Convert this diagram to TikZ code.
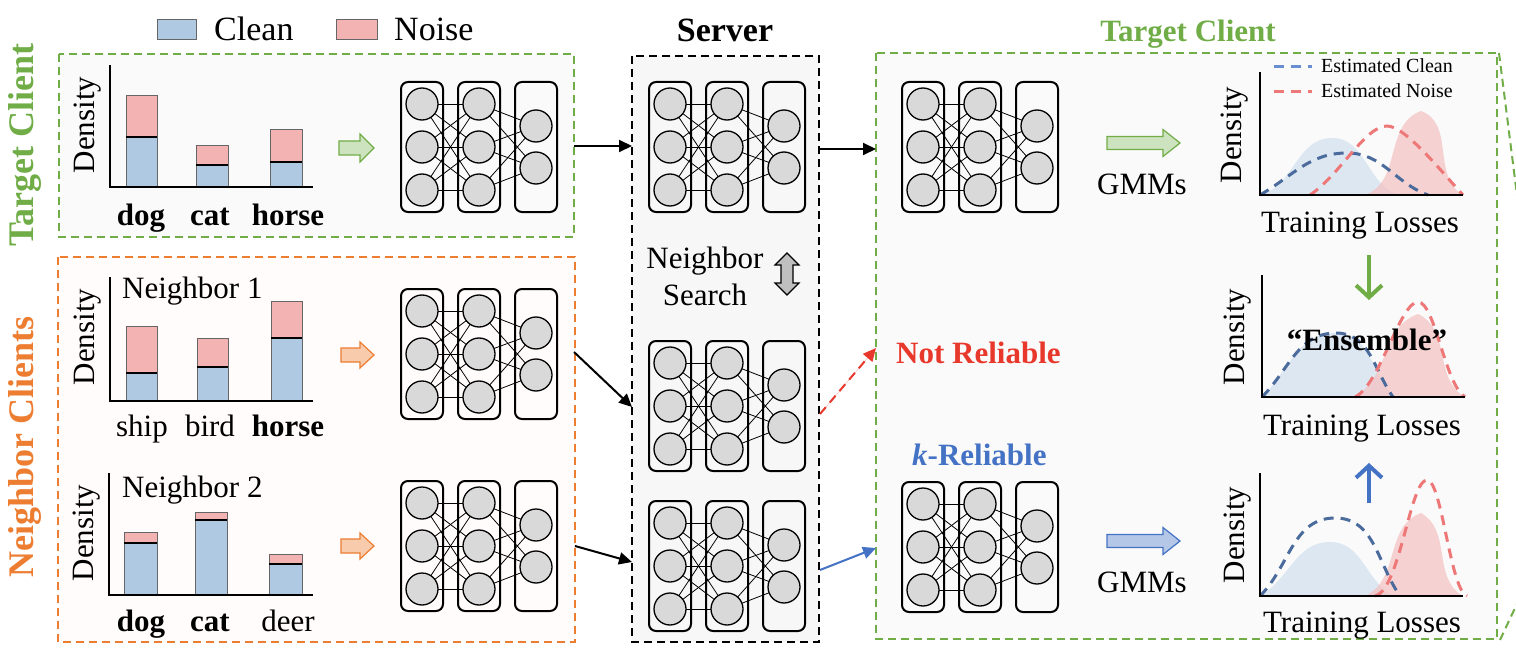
\documentclass[tikz,border=0pt]{standalone}
\usepackage{fontspec}
\setmainfont{Liberation Serif}
\usetikzlibrary{arrows.meta,positioning,calc}

\definecolor{cleanblue}{HTML}{B0C9E3}
\definecolor{noisepink}{HTML}{F3B3B3}
\definecolor{tgtgreen}{HTML}{70AD47}
\definecolor{nbrorange}{HTML}{ED7D31}
\definecolor{notred}{HTML}{E8382C}
\definecolor{relblue}{HTML}{4472C4}
\definecolor{estblue}{HTML}{4A6B9C}
\definecolor{estred}{HTML}{EE7777}
\definecolor{fillblue}{HTML}{D6E3F0}
\definecolor{fillred}{HTML}{F4C0C0}
\definecolor{neurongray}{HTML}{D9D9D9}

\newcommand{\pxfont}[1]{\fontsize{#1}{#1}\selectfont}

% small network: centre x, centre y
\newcommand{\nnet}[2]{%
  \begin{scope}[shift={(#1,#2)}]
    \foreach \lx in {-57,0,57}
      \draw[layerbox] (\lx-21,-65) rectangle (\lx+21,65);
    \foreach \ya in {-43,0,43} {
      \foreach \yb in {-43,0,43}
        \draw[wire] (-57,\ya) -- (0,\yb);
      \foreach \yb in {-21,21}
        \draw[wire] (0,\ya) -- (57,\yb);
    }
    \foreach \lx in {-57,0}
      \foreach \ya in {-43,0,43}
        \draw[neuron] (\lx,\ya) circle (16);
    \foreach \ya in {-21,21}
      \draw[neuron] (57,\ya) circle (16);
  \end{scope}}

% stacked bar: x1, x2, base, clean top, noise top
\newcommand{\stackbar}[5]{%
  \draw[barline,fill=cleanblue] (#1,#3) rectangle (#2,#4);
  \draw[barline,fill=noisepink] (#1,#4) rectangle (#2,#5);
  \draw[line width=1.5pt] (#1,#4) -- (#2,#4);}

% block arrow: style, x1, x2, y, shaft half, head half, head length
\newcommand{\blockarrow}[7]{%
  \draw[#1] (#2,#4-#5) -- (#3-#7,#4-#5) -- (#3-#7,#4-#6) -- (#3,#4)
    -- (#3-#7,#4+#6) -- (#3-#7,#4+#5) -- (#2,#4+#5) -- cycle;}

\tikzset{
  lbl/.style={font=\pxfont{31},inner sep=0pt},
  blbl/.style={font=\pxfont{31}\bfseries,inner sep=0pt},
  layerbox/.style={line width=2pt,rounded corners=7pt},
  wire/.style={line width=0.8pt},
  neuron/.style={line width=1.3pt,fill=neurongray},
  barline/.style={draw=black!60,line width=1pt},
  axis/.style={line width=2.5pt},
  flow/.style={line width=2pt,-{Triangle[length=13pt,width=12pt]}},
  panel/.style={line width=2pt,dash pattern=on 8pt off 5pt},
  estcurve/.style={line width=3pt,dash pattern=on 10pt off 7pt},
  upflow/.style={line width=4pt,-{Straight Barb[length=12pt,width=26pt]}}
}

\begin{document}
\begin{tikzpicture}[x=1pt,y=-1pt]
  \useasboundingbox (0,0) rectangle (1516,658);
  \fill[white] (0,0) rectangle (1516,658);

  % ---- legend ----
  \draw[draw=black!60,line width=1pt,fill=cleanblue] (157,20) rectangle (196,40);
  \node[lbl,font=\pxfont{34},anchor=base west] (cleanlbl) at (214,41) {Clean};
  \draw[draw=black!60,line width=1pt,fill=noisepink] (336,20) rectangle (377,40);
  \node[lbl,font=\pxfont{34},anchor=base west] (noiselbl) at (394,41) {Noise};

  % ---- panels ----
  \draw[panel,draw=tgtgreen,fill=black!2] (59,54) rectangle (574,237);
  \draw[panel,draw=nbrorange,fill=nbrorange!2] (58,257) rectangle (575,642);
  \draw[panel,draw=black,fill=black!3] (632,56) rectangle (819,642);
  \draw[panel,draw=tgtgreen,fill=black!2] (876,53) rectangle (1497,639);
  % zoom-out lines at the right edge
  \draw[panel,draw=tgtgreen] (1499,53) -- (1530,298);
  \draw[panel,draw=tgtgreen] (1500,640) -- (1530,576);

  \node[blbl,font=\pxfont{36}\bfseries,text=tgtgreen,rotate=90] (tgtside) at (25,145) {Target Client};
  \node[blbl,font=\pxfont{36}\bfseries,text=nbrorange,rotate=90] (nbrside) at (25,447) {Neighbor Clients};
  \node[blbl,font=\pxfont{34}\bfseries,anchor=base] (srvtitle) at (725,42) {Server};
  \node[blbl,text=tgtgreen,anchor=base] (tgttitle) at (1188,42) {Target Client};

  % ---- target client data ----
  \stackbar{126}{157}{187}{137}{96}
  \stackbar{196}{228}{187}{165}{146}
  \stackbar{270}{302}{187}{162}{130}
  \draw[axis] (110,65) -- (110,187) -- (313,187);
  \node[lbl,rotate=90] (dens1) at (88,125) {Density};
  \node[blbl,anchor=base] (dog1) at (141,225) {dog};
  \node[blbl,anchor=base] (cat1) at (210,225) {cat};
  \node[blbl,anchor=base] (horse1) at (288,225) {horse};

  % ---- neighbor 1 ----
  \stackbar{126}{157}{401}{373}{326}
  \stackbar{197}{228}{401}{367}{338}
  \stackbar{271}{302}{401}{338}{301}
  \draw[axis] (110,277) -- (110,401) -- (313,401);
  \node[lbl,rotate=90] (dens2) at (88,337) {Density};
  \node[lbl,anchor=base west] (nbr1) at (122,298) {Neighbor 1};
  \node[lbl,anchor=base] (ship) at (142,436) {ship};
  \node[lbl,anchor=base] (bird) at (210,436) {bird};
  \node[blbl,anchor=base] (horse2) at (288,436) {horse};

  % ---- neighbor 2 ----
  \stackbar{124}{157}{595}{543}{532}
  \stackbar{195}{227}{595}{520}{512}
  \stackbar{269}{302}{595}{564}{554}
  \draw[axis] (109,473) -- (109,595) -- (313,595);
  \node[lbl,rotate=90] (dens3) at (87,533) {Density};
  \node[lbl,anchor=base west] (nbr2) at (122,497) {Neighbor 2};
  \node[blbl,anchor=base] (dog2) at (141,631) {dog};
  \node[blbl,anchor=base] (cat2) at (210,631) {cat};
  \node[lbl,anchor=base] (deer) at (288,631) {deer};

  % ---- block arrows to local models ----
  \blockarrow{draw=tgtgreen,fill=tgtgreen!35,line width=1.2pt}{339}{374}{148}{7}{14}{14}
  \blockarrow{draw=nbrorange,fill=nbrorange!40,line width=1.2pt}{341}{374}{355}{7}{13}{14}
  \blockarrow{draw=nbrorange,fill=nbrorange!40,line width=1.2pt}{341}{374}{546}{7}{13}{14}

  % ---- networks ----
  \nnet{479}{147}
  \nnet{479}{354}
  \nnet{479}{546}
  \nnet{727}{147}
  \nnet{727}{406}
  \nnet{727}{566}
  \nnet{980}{147}
  \nnet{980}{547}

  % ---- neighbor search ----
  \node[lbl,anchor=base] (nbsearch1) at (705,268) {Neighbor};
  \node[lbl,anchor=base] (nbsearch2) at (705,305) {Search};
  \draw[line width=1.2pt,fill=black!25] (787,253) -- (799,265) -- (793,265) -- (793,283)
    -- (799,283) -- (787,295) -- (775,283) -- (781,283) -- (781,265) -- (775,265) -- cycle;

  % ---- uploads and downloads ----
  \coordinate (tgtout) at (574,146);
  \coordinate (srvin1) at (632,146);
  \coordinate (nbrout1) at (574,352);
  \coordinate (srvin2) at (632,407);
  \coordinate (nbrout2) at (575,546);
  \coordinate (srvin3) at (632,562);
  \coordinate (srvout1) at (819,149);
  \coordinate (tgtin1) at (876,149);
  \coordinate (srvout2) at (820,414);
  \coordinate (notin) at (876,348);
  \coordinate (srvout3) at (820,570);
  \coordinate (relin) at (876,548);
  \draw[flow] (tgtout) -- (srvin1);
  \draw[flow] (nbrout1) -- (srvin2);
  \draw[flow] (nbrout2) -- (srvin3);
  \draw[flow] (srvout1) -- (tgtin1);
  \draw[flow,draw=notred,fill=notred,dash pattern=on 9pt off 6pt] (srvout2) -- (notin);
  \draw[flow,draw=relblue,fill=relblue] (srvout3) -- (relin);

  \node[blbl,text=notred,anchor=base west] (notrel) at (896,363) {Not Reliable};
  \node[blbl,text=relblue,anchor=base west] (krel) at (912,465) {\itshape k\upshape-Reliable};

  % ---- GMMs ----
  \blockarrow{draw=tgtgreen,fill=tgtgreen!35,line width=1.2pt}{1107}{1180}{143}{6.5}{13.5}{17}
  \node[lbl,anchor=base] (gmm1) at (1142,194) {GMMs};
  \blockarrow{draw=relblue,fill=relblue!40,line width=1.2pt}{1107}{1180}{541}{6.5}{13.5}{17}
  \node[lbl,anchor=base] (gmm2) at (1142,592) {GMMs};

  % ---- loss density, target ----
  \fill[fillblue,fill opacity=0.8] (1260,195) to[out=15,in=180] (1332,138) to[out=0,in=165] (1400,195) -- cycle;
  \fill[fillred,fill opacity=0.7] (1365,195) to[out=20,in=200] (1421,111) to[out=-20,in=150] (1463,195) -- cycle;
  \draw[estcurve,draw=estblue] (1260,195) to[out=30,in=180] (1347,153) to[out=0,in=160] (1428,195);
  \draw[estcurve,draw=estred] (1310,195) .. controls (1340,175) and (1365,126) .. (1387,126)
    .. controls (1405,126) and (1440,170) .. (1463,195);
  \draw[axis] (1260,72) -- (1260,195) -- (1463,195);
  \node[lbl,rotate=90] (dens4) at (1235,135) {Density};
  \node[lbl,anchor=base] (loss1) at (1360,232) {Training Losses};
  \draw[estcurve,draw=relblue!80] (1274,67) -- (1312,67);
  \node[lbl,font=\pxfont{20},anchor=base west] (estclean) at (1321,73) {Estimated Clean};
  \draw[estcurve,draw=estred] (1274,92) -- (1312,92);
  \node[lbl,font=\pxfont{20},anchor=base west] (estnoise) at (1321,98) {Estimated Noise};

  \draw[upflow,draw=tgtgreen] (1369,255) -- (1369,300);

  % ---- loss density, ensemble ----
  \fill[fillblue,fill opacity=0.8] (1262,397) to[out=45,in=180] (1336,333) to[out=0,in=130] (1393,397) -- cycle;
  \fill[fillred,fill opacity=0.7] (1353,397) to[out=25,in=200] (1418,314) to[out=-25,in=150] (1465,397) -- cycle;
  \draw[estcurve,draw=estblue] (1262,397) to[out=45,in=180] (1336,333) to[out=0,in=125] (1393,397);
  \draw[estcurve,draw=estred] (1355,397) .. controls (1380,385) and (1400,302) .. (1418,302)
    .. controls (1435,302) and (1445,385) .. (1465,397);
  \draw[axis] (1262,275) -- (1262,397) -- (1465,397);
  \node[lbl,rotate=90] (dens5) at (1238,337) {Density};
  \node[lbl,anchor=base] (loss2) at (1362,435) {Training Losses};
  \node[blbl,anchor=base] (ensemble) at (1367,350) {“Ensemble”};

  \draw[upflow,draw=relblue] (1369,503) -- (1369,463);

  % ---- loss density, reliable neighbor ----
  \fill[fillblue,fill opacity=0.8] (1260,596) to[out=30,in=180] (1330,542) to[out=0,in=150] (1393,596) -- cycle;
  \fill[fillred,fill opacity=0.7] (1365,596) to[out=25,in=200] (1421,513) to[out=-30,in=150] (1463,596) -- cycle;
  \draw[estcurve,draw=estblue] (1260,596) to[out=45,in=180] (1335,518) to[out=0,in=125] (1400,596);
  \draw[estcurve,draw=estred] (1375,596) .. controls (1400,590) and (1410,480) .. (1427,480)
    .. controls (1442,480) and (1450,590) .. (1467,596);
  \draw[axis] (1260,473) -- (1260,596) -- (1463,596);
  \node[lbl,rotate=90] (dens6) at (1238,535) {Density};
  \node[lbl,anchor=base] (loss3) at (1362,632) {Training Losses};
\end{tikzpicture}
\end{document}
